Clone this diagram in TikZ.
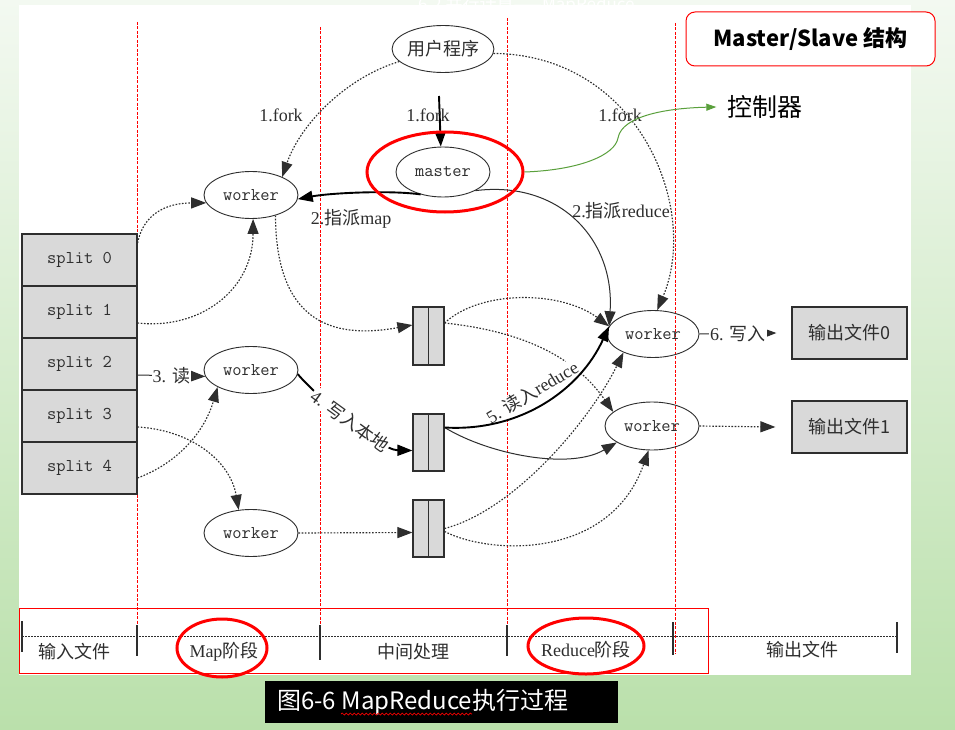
\documentclass[tikz,border=0pt]{standalone}
\usepackage{fontspec}
\setmainfont{Liberation Serif}
\newfontfamily\cjk{Noto Sans CJK SC}
\usetikzlibrary{arrows.meta,shapes.geometric,decorations.pathmorphing}
\newcommand\zh[1]{{\cjk #1}}
\definecolor{ink}{HTML}{2E2E2E}
\definecolor{boxgray}{HTML}{D9D9D9}
\definecolor{grn}{HTML}{5AA03C}
\begin{document}
\begin{tikzpicture}[x=1pt,y=-1pt,
  ell/.style={ellipse, draw=ink, line width=0.9pt, minimum width=94pt, minimum height=47pt, inner sep=0pt, font=\ttfamily\fontsize{18}{18}\selectfont, text=ink},
  splitbox/.style={rectangle, draw=ink, fill=boxgray, line width=1.2pt, minimum width=115pt, minimum height=52pt, inner sep=0pt, font=\ttfamily\fontsize{18}{18}\selectfont, text=ink},
  filebox/.style={rectangle, draw=ink, fill=boxgray, line width=1.2pt, minimum width=31pt, inner sep=0pt},
  outbox/.style={rectangle, draw=ink, fill=boxgray, line width=1.2pt, minimum width=115pt, minimum height=52pt, inner sep=0pt, font=\cjk\fontsize{18}{18}\selectfont, text=ink},
  arr/.style={-{Triangle[length=15pt,width=11pt]}, draw=ink, line width=1pt},
  dot/.style={arr, line width=1.15pt, dash pattern=on 1.6pt off 1.6pt},
  heavy/.style={arr, draw=black, line width=1.9pt},
  lab/.style={font=\fontsize{18}{18}\selectfont, text=ink, inner sep=1pt},
  tl/.style={font=\fontsize{18}{18}\selectfont, text=ink, inner sep=0pt},
  reddash/.style={draw=red, line width=0.8pt, dash pattern=on 3pt off 1.5pt},
  tick/.style={draw=ink, line width=1.5pt},
  ring/.style={draw=red, line width=3pt}
]
\useasboundingbox (0,0) rectangle (955,730);
% background
\shade[top color={rgb,255:red,243;green,249;blue,241}, middle color={rgb,255:red,205;green,233;blue,195}, bottom color={rgb,255:red,186;green,224;blue,171}] (0,0) rectangle (955,730);
\node[text=white, font=\cjk\fontsize{17}{17}\selectfont, anchor=west, inner sep=0pt] (toptxt) at (418,5) {6.2 并行计算——MapReduce};
\fill[white] (19,5) rectangle (911,675);

% phase dividers
\draw[reddash] (137,22) -- (137,655);
\draw[reddash] (320,27) -- (320,659);
\draw[reddash] (507,18) -- (507,656);
\draw[reddash] (675,23) -- (675,654);

% timeline
\draw[ink, line width=1pt, dash pattern=on 1.5pt off 1.5pt] (22,636) -- (897,636);
\draw[tick] (22,621) -- (22,652);
\draw[tick] (137,625) -- (137,656);
\draw[tick] (320,625) -- (320,660);
\draw[tick] (507,625) -- (507,656);
\draw[tick] (673,622) -- (673,655);
\draw[tick] (897,622) -- (897,653);
\draw[draw=red, line width=1pt] (19,608) rectangle (708,673);
\node[tl] (t1) at (74,652) {\zh{输入文件}};
\node[tl] (t2) at (224,652) {Map\zh{阶段}};
\node[tl] (t3) at (413,652) {\zh{中间处理}};
\node[tl] (t4) at (586,650) {Reduce\zh{阶段}};
\node[tl] (t5) at (802,650) {\zh{输出文件}};
\draw[ring] (222,648) ellipse [x radius=45, y radius=29];
\draw[ring] (586,646) ellipse [x radius=58, y radius=28];

% nodes
\node[ell, font=\cjk\fontsize{18}{18}\selectfont] (user) at (443,49) {用户程序};
\node[ell, minimum height=50pt] (master) at (443,172) {master};
\node[ell] (w1) at (251,195) {worker};
\node[ell] (w2) at (251,370) {worker};
\node[ell] (w3) at (251,533) {worker};
\node[ell, minimum width=92pt] (rw1) at (653,334) {worker};
\node[ell, minimum height=48pt] (rw2) at (652,426) {worker};
\node[splitbox] (s0) at (79.5,260) {split 0};
\node[splitbox] (s1) at (79.5,312) {split 1};
\node[splitbox] (s2) at (79.5,364) {split 2};
\node[splitbox] (s3) at (79.5,416) {split 3};
\node[splitbox] (s4) at (79.5,468) {split 4};
\node[filebox, minimum height=58pt] (f1) at (428.5,336) {};
\node[filebox, minimum height=57pt] (f2) at (428.5,442.5) {};
\node[filebox, minimum height=57pt] (f3) at (428.5,528.5) {};
\foreach \f in {f1,f2,f3} \draw[ink, line width=1.2pt] (\f.north) -- (\f.south);
\node[outbox] (o0) at (849.5,333) {输出文件0};
\node[outbox] (o1) at (849.5,427) {输出文件1};

% connectors
\coordinate (fk) at (439,96);
\draw[dot] (user.196) .. controls (345,78) and (300,125) .. (w1.30);
\node[lab] (l1) at (281,115) {1.fork};
\draw[heavy] (fk) -- (master.95);
\node[lab] (l2) at (428,115) {1.fork};
\draw[dot] (user.-5) .. controls (640,55) and (700,210) .. (rw1.80);
\node[lab] (l3) at (620,115) {1.fork};
\draw[heavy] (master.225) .. controls (390,190) and (330,193) .. (w1.-5);
\node[lab] (l4) at (351,219) {2.\zh{指派}map};
\draw[arr] (master.-30) .. controls (560,180) and (615,240) .. (rw1.170);
\node[lab] (l5) at (621,211) {2.\zh{指派}reduce};

\draw[dot] ([yshift=17pt]s0.east) .. controls (143,215) and (165,203) .. (w1.190);
\draw[dot] ([yshift=-11pt]s1.east) .. controls (200,330) and (253,290) .. (w1.275);
\draw[dot] (w1.320) .. controls (276,320) and (330,340) .. ([yshift=11pt]f1.west);
\draw[arr] ([yshift=-11pt]s2.east) -- node[lab, fill=white] {3. \zh{读}} (w2.188);
\draw[dot] ([yshift=-10pt]s4.east) .. controls (180,462) and (205,430) .. (w2.207);
\draw[dot] ([yshift=-11pt]s3.east) .. controls (190,430) and (230,460) .. (w3.118);
\draw[heavy] (w2.-5) .. controls (315,395) and (380,450) .. ([yshift=-8pt]f2.west);
\node[lab, fill=white, rotate=-36] (l6) at (350,421) {4. \zh{写入本地}};
\draw[dot] (w3.east) -- ([yshift=-4pt]f3.west);

\draw[dot] ([yshift=13pt]f1.east) .. controls (480,290) and (560,290) .. (rw1.170);
\draw[dot] ([yshift=13pt]f1.east) .. controls (510,330) and (570,350) .. (rw2.160);
\draw[arr] ([yshift=15pt]f2.east) .. controls (490,455) and (570,470) .. (rw2.205);
\draw[dot] (f3.east) .. controls (515,510) and (590,420) .. (rw1.212);
\draw[dot] ([yshift=-3pt]f3.east) .. controls (490,555) and (610,560) .. (rw2.262);
\node[lab, fill=white, rotate=31, inner sep=0.5pt] (l7) at (532,392) {5. \zh{读入}reduce};
\draw[heavy] ([yshift=15pt]f2.east) .. controls (520,432) and (580,390) .. (rw1.170);

\draw[arr] (rw1.east) -- node[lab, fill=white] {6. \zh{写入}} ([xshift=-15pt]o0.west);
\draw[dot] (rw2.east) -- ([xshift=-16pt]o1.west);

% master ring and controller annotation
\node[ring, ellipse, minimum width=156pt, minimum height=80pt, inner sep=0pt] (mring) at (445,172) {};
\node[font=\cjk\fontsize{25}{25}\selectfont, text=black, inner sep=0pt] (ctrl) at (765,107) {控制器};
\draw[grn, line width=1pt, -{Triangle[length=10pt,width=7pt]}] (mring.east) .. controls (580,170) and (615,155) .. (618,138) .. controls (622,115) and (670,108) .. ([xshift=-11pt]ctrl.west);
\node[draw=red, rounded corners=9pt, fill=white, line width=1pt, minimum width=249pt, minimum height=54pt, inner sep=0pt, font=\cjk\bfseries\fontsize{22}{22}\selectfont] (ms) at (810.5,39) {Master/Slave 结构};

% caption
\node[fill=black, minimum width=353pt, minimum height=42pt, inner sep=0pt] (capbox) at (441.5,702) {};
\node[text=white, anchor=west, inner sep=0pt, font=\cjk\fontsize{24}{24}\selectfont] (cap) at (277,702) {图6-6 MapReduce执行过程};
\draw[red, line width=0.7pt, decorate, decoration={snake, amplitude=1pt, segment length=4pt}] (341,714) -- (472,714);
\end{tikzpicture}
\end{document}
